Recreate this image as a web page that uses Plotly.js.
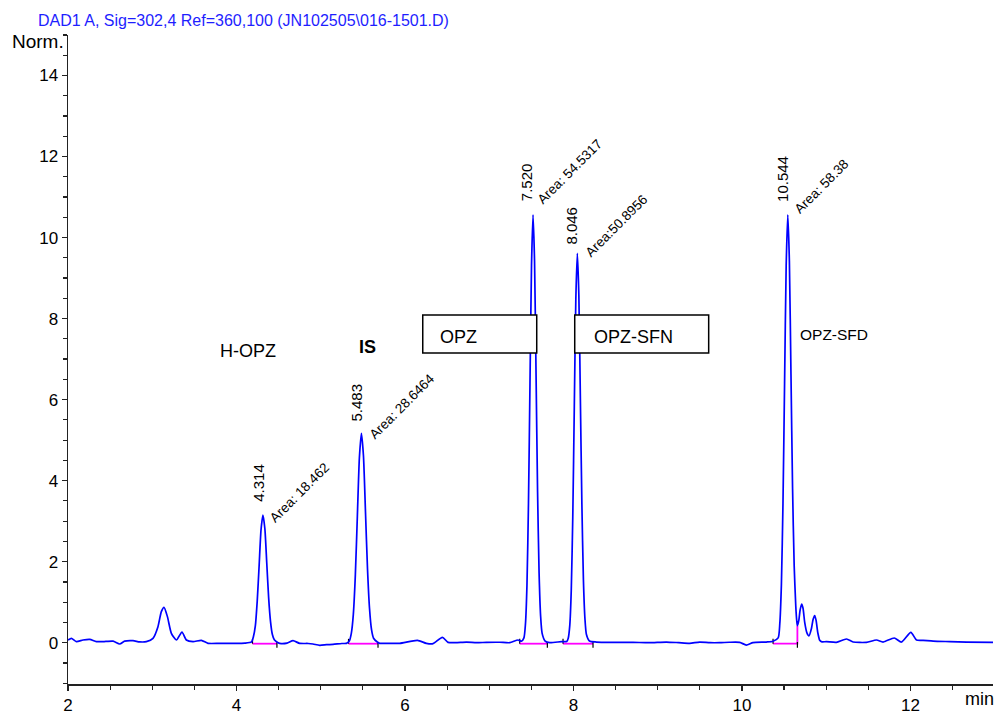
<!DOCTYPE html>
<html>
<head>
<meta charset="utf-8">
<script src="https://cdn.plot.ly/plotly-3.0.1.min.js"></script>
<style>
  html, body { margin: 0; padding: 0; background: #ffffff; }
  #chart { width: 998px; height: 714px; }
</style>
</head>
<body>
<div id="chart"></div>
<script>
// ---- Data ----
const time = [
  2.0, 2.04, 2.099, 2.178, 2.258, 2.337, 2.45, 2.535, 2.614, 2.673, 2.772, 2.85, 2.93,
  3.009, 3.068, 3.108, 3.14, 3.18, 3.227, 3.287, 3.353, 3.405, 3.484, 3.583, 3.662, 3.8, 3.959, 4.1,
  4.179, 4.2, 4.224, 4.246, 4.269, 4.291, 4.314, 4.337, 4.359, 4.381, 4.404, 4.426, 4.449, 4.494,
  4.513, 4.6, 4.671, 4.75, 4.85, 4.908, 4.988, 5.07, 5.146, 5.25, 5.305,
  5.339, 5.363, 5.387, 5.411, 5.435, 5.459, 5.483, 5.507, 5.531, 5.555, 5.579, 5.603, 5.627, 5.675,
  5.7, 5.82, 5.938, 6.148, 6.254, 6.333, 6.444, 6.511, 6.6, 6.729, 6.85, 6.967, 7.125, 7.244, 7.342, 7.382,
  7.412, 7.43, 7.448, 7.466, 7.484, 7.502, 7.52, 7.538, 7.556, 7.574, 7.592, 7.61, 7.628, 7.664, 7.718, 7.857,
  7.92, 7.938, 7.956, 7.974, 7.992, 8.01, 8.028, 8.046, 8.064, 8.082, 8.1, 8.118, 8.136, 8.154, 8.19,
  8.272, 8.45, 8.707, 8.9, 9.103, 9.25, 9.38, 9.498, 9.62, 9.736, 9.85, 9.973, 10.052, 10.131, 10.29, 10.369,
  10.43, 10.449, 10.468, 10.487, 10.506, 10.525, 10.544, 10.563, 10.582, 10.601, 10.62, 10.639, 10.65, 10.658,
  10.675, 10.69, 10.709, 10.725, 10.745, 10.77, 10.796, 10.825, 10.845, 10.864, 10.88, 10.9, 10.923, 10.95,
  11.002, 11.121, 11.241, 11.32, 11.478, 11.597, 11.676, 11.807, 11.894, 12.005, 12.072, 12.151, 12.27,
  12.468, 12.666, 12.98
];
const signal = [
  0.066, 0.108, 0.026, 0.066, 0.083, 0.026, 0.03, 0.037, -0.033, 0.037, 0.049, 0.02, 0.026,
  0.108, 0.396, 0.766, 0.873, 0.643, 0.231, 0.066, 0.264, 0.066, 0.026, 0.058, -0.016, -0.016, -0.016, -0.01,
  0.02, 0.14, 0.42, 1.02, 1.91, 2.78, 3.15, 2.81, 1.98, 1.13, 0.52, 0.2, 0.07, 0.0,
  -0.016, -0.01, 0.049, -0.016, -0.02, -0.033, -0.066, -0.05, -0.041, -0.02, -0.016,
  0.04, 0.23, 0.7, 1.68, 3.14, 4.57, 5.17, 4.62, 3.24, 1.83, 0.85, 0.32, 0.11, 0.01,
  -0.016, -0.016, -0.016, 0.058, -0.016, -0.025, 0.133, 0.008, 0.0, 0.016, 0.0, 0.008, 0.01, 0.0, 0.066, 0.037,
  0.12, 0.46, 1.42, 3.44, 6.41, 9.31, 10.56, 9.42, 6.62, 3.72, 1.72, 0.66, 0.23, 0.04, 0.0, 0.026,
  0.03, 0.11, 0.42, 1.3, 3.12, 5.83, 8.47, 9.61, 8.57, 6.02, 3.41, 1.56, 0.6, 0.2, 0.04,
  0.016, 0.008, 0.008, 0.0, 0.016, 0.0, -0.016, 0.016, 0.0, 0.0, 0.01, 0.008, -0.058, 0.0, 0.016, 0.037,
  0.12, 0.46, 1.42, 3.44, 6.41, 9.31, 10.56, 9.42, 6.62, 3.8, 1.9, 0.9, 0.55, 0.42,
  0.55, 0.8, 0.955, 0.85, 0.5, 0.25, 0.17, 0.35, 0.58, 0.67, 0.55, 0.25, 0.06, 0.02,
  0.026, 0.008, 0.091, 0.016, 0.008, 0.066, 0.016, 0.116, 0.016, 0.256, 0.066, 0.058, 0.037,
  0.026, 0.016, 0.008
];
const retentionTimes = ['4.314', '5.483', '7.520', '8.046', '10.544'];
const areaLabels = ['Area: 18.462', 'Area: 28.6464', 'Area: 54.5317', 'Area:50.8956', 'Area: 58.38'];
const intStart = [4.19, 5.33, 7.362, 7.876, 10.369];
const intEnd = [4.48, 5.68, 7.69, 8.232, 10.658];
const intBaseline = [-0.025, -0.025, -0.025, -0.025, -0.025];
const intEndLevel = [-0.025, -0.025, -0.025, -0.025, 0.42];
const compoundNames = ['H-OPZ', 'IS', 'OPZ', 'OPZ-SFN', 'OPZ-SFD'];
const xTickVals = [2, 4, 6, 8, 10, 12];
const yTickVals = [0, 2, 4, 6, 8, 10, 12, 14];

// ---- Build traces ----
const FONT = 'Arial, "Liberation Sans", sans-serif';

const signalTrace = {
  x: time, y: signal, type: 'scatter', mode: 'lines',
  line: { color: '#0000ff', width: 1.7, shape: 'spline', smoothing: 0.6 },
  hoverinfo: 'x+y', showlegend: false
};

const bx = [], by = [];
intStart.forEach((s, i) => {
  bx.push(s, intEnd[i], intEnd[i], null);
  by.push(intBaseline[i], intBaseline[i], intEndLevel[i], null);
});
const baselineTrace = {
  x: bx, y: by, type: 'scatter', mode: 'lines',
  line: { color: '#ff00ff', width: 1.8 }, hoverinfo: 'skip', showlegend: false
};

const tx = [], ty = [];
intStart.forEach((s, i) => {
  tx.push(s, s, null, intEnd[i], intEnd[i], null);
  ty.push(intBaseline[i], intBaseline[i] + 0.12, null, intBaseline[i] + 0.04, intBaseline[i] - 0.1, null);
});
const tickTrace = {
  x: tx, y: ty, type: 'scatter', mode: 'lines',
  line: { color: '#000000', width: 1.2 }, hoverinfo: 'skip', showlegend: false
};

// ---- Layout geometry (pixels) ----
const W = 998, H = 714, ML = 68, MR = 5, MT = 35, MB = 30;
const PW = W - ML - MR, PH = H - MT - MB;
const px = v => (v - ML) / PW;          // figure px -> paper x
const py = v => (H - MB - v) / PH;      // figure px -> paper y

// ---- Annotations ----
const rtPos = [[4.252, 3.94], [5.427, 5.92], [7.445, 11.36], [7.98, 10.29], [10.472, 11.44]];
const areaPos = [[4.751, 3.70], [5.961, 5.84], [7.957, 11.64], [8.515, 10.29], [10.947, 11.25]];
const annotations = [];
retentionTimes.forEach((t, i) => {
  annotations.push({
    x: rtPos[i][0], y: rtPos[i][1], xref: 'x', yref: 'y', text: t, showarrow: false,
    textangle: -90, xanchor: 'center', yanchor: 'middle',
    font: { family: FONT, size: 15, color: '#000' }
  });
  annotations.push({
    x: areaPos[i][0], y: areaPos[i][1], xref: 'x', yref: 'y', text: areaLabels[i], showarrow: false,
    textangle: -45, xanchor: 'center', yanchor: 'middle',
    font: { family: FONT, size: 13.5, color: '#000' }
  });
});
annotations.push(
  { x: 4.136, y: 7.2, xref: 'x', yref: 'y', text: compoundNames[0], showarrow: false,
    font: { family: FONT, size: 18, color: '#000' } },
  { x: 5.561, y: 7.3, xref: 'x', yref: 'y', text: '<b>' + compoundNames[1] + '</b>', showarrow: false,
    font: { family: FONT, size: 18, color: '#000' } },
  { x: 6.389, y: 7.55, xref: 'x', yref: 'y', text: compoundNames[2], showarrow: false, xanchor: 'left',
    font: { family: FONT, size: 18, color: '#000' } },
  { x: 8.216, y: 7.55, xref: 'x', yref: 'y', text: compoundNames[3], showarrow: false, xanchor: 'left',
    font: { family: FONT, size: 18, color: '#000' } },
  { x: 11.088, y: 7.6, xref: 'x', yref: 'y', text: compoundNames[4], showarrow: false,
    font: { family: FONT, size: 15.5, color: '#000' } },
  { x: px(36), y: py(20.5), xref: 'paper', yref: 'paper', text: 'DAD1 A, Sig=302,4 Ref=360,100 (JN102505\\016-1501.D)',
    showarrow: false, xanchor: 'left', yanchor: 'middle',
    font: { family: FONT, size: 16, color: '#1e1eff' } },
  { x: px(66), y: py(41.7), xref: 'paper', yref: 'paper', text: 'Norm.', showarrow: false,
    xanchor: 'right', yanchor: 'middle', font: { family: FONT, size: 19, color: '#000' } },
  { x: px(996), y: py(699), xref: 'paper', yref: 'paper', text: 'min', showarrow: false,
    xanchor: 'right', yanchor: 'middle', font: { family: FONT, size: 18, color: '#000' } }
);

const shapes = [
  { type: 'rect', xref: 'x', yref: 'y', x0: 6.211, x1: 7.564, y0: 7.15, y1: 8.09,
    line: { color: '#000', width: 1.5 }, fillcolor: '#ffffff', layer: 'above' },
  { type: 'rect', xref: 'x', yref: 'y', x0: 8.015, x1: 9.605, y0: 7.15, y1: 8.09,
    line: { color: '#000', width: 1.5 }, fillcolor: '#ffffff', layer: 'above' }
];

const layout = {
  width: W, height: H,
  margin: { l: ML, r: MR, t: MT, b: MB, pad: 0 },
  paper_bgcolor: '#ffffff', plot_bgcolor: '#ffffff',
  showlegend: false,
  font: { family: FONT, size: 17, color: '#000' },
  xaxis: {
    range: [2, 12.98], showgrid: false, zeroline: false,
    showline: true, linecolor: '#222', linewidth: 1.5,
    ticks: 'outside', ticklen: 5, tickwidth: 1.3, tickcolor: '#222',
    tickmode: 'array', tickvals: xTickVals, ticktext: xTickVals.map(String),
    tickfont: { family: FONT, size: 17, color: '#000' },
    minor: { dtick: 0.5, tick0: 2, ticks: 'outside', ticklen: 4, tickwidth: 1.2, tickcolor: '#222', showgrid: false },
    mirror: false
  },
  yaxis: {
    range: [-1.02, 15.0], showgrid: false, zeroline: false,
    showline: true, linecolor: '#222', linewidth: 1.5,
    ticks: 'outside', ticklen: 5, tickwidth: 1.3, tickcolor: '#222',
    tickmode: 'array', tickvals: yTickVals, ticktext: yTickVals.map(String),
    tickfont: { family: FONT, size: 17, color: '#000' },
    minor: { dtick: 0.5, tick0: 0, ticks: 'outside', ticklen: 4, tickwidth: 1.2, tickcolor: '#222', showgrid: false },
    mirror: false
  },
  annotations: annotations,
  shapes: shapes
};

Plotly.newPlot('chart', [baselineTrace, tickTrace, signalTrace], layout, { displayModeBar: false, staticPlot: true });
</script>
</body>
</html>
